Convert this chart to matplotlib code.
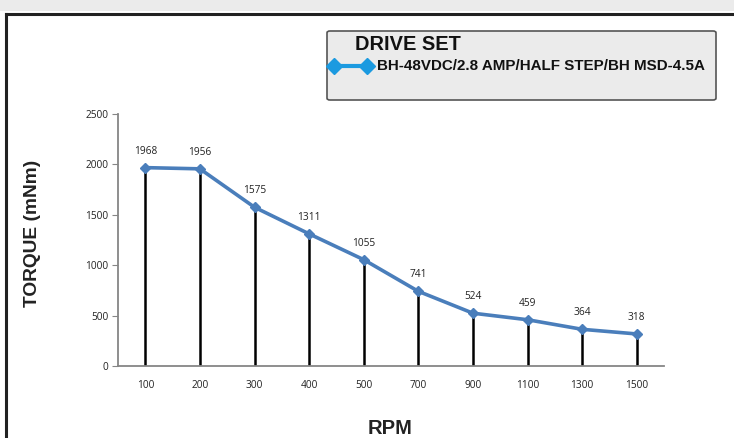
import matplotlib.pyplot as plt
from matplotlib.patches import Rectangle, FancyBboxPatch
from matplotlib.lines import Line2D

rpm = ['100', '200', '300', '400', '500', '700', '900', '1100', '1300', '1500']
torque = [1968, 1956, 1575, 1311, 1055, 741, 524, 459, 364, 318]
y_ticks = [0, 500, 1000, 1500, 2000, 2500]
legend_title = 'DRIVE SET'
series_name = 'BH-48VDC/2.8 AMP/HALF STEP/BH MSD-4.5A'

fig = plt.figure(figsize=(7.34, 4.38), dpi=100)
W, H = 734, 438

# gray strip on top and the black frame
fig.patches.append(Rectangle((0, 1 - 11 / H), 1, 11 / H, transform=fig.transFigure,
                             facecolor='#ebebeb', edgecolor='none'))
fig.add_artist(Line2D([6 / W, 6 / W], [0, 1 - 14 / H], color='#222222', lw=2.2))
fig.add_artist(Line2D([6 / W, 1], [1 - 14 / H, 1 - 14 / H], color='#222222', lw=2.2))

ax = fig.add_axes([118 / W, 1 - 366 / H, (664 - 118) / W, (366 - 114) / H])
x = list(range(len(rpm)))

# drop lines
ax.vlines(x, 0, torque, color='black', lw=1.8, zorder=2)
ax.plot(x, torque, color='#4a7ebb', lw=2.6, marker='D', markersize=5, zorder=3)

for xi, v in zip(x, torque):
    ax.annotate(str(v), (xi, v), xytext=(0, 8), textcoords='offset points',
                ha='center', va='bottom', fontsize=7.3, family='Open Sans', color='#222222')

ax.set_xlim(-0.5, len(rpm) - 0.5)
ax.set_ylim(0, 2500)
ax.set_yticks(y_ticks)
ax.set_xticks(x)
ax.set_xticklabels(rpm)
for lab in ax.get_xticklabels() + ax.get_yticklabels():
    lab.set_fontsize(7.3)
    lab.set_family('Open Sans')
    lab.set_color('#222222')
ax.tick_params(axis='x', length=0, pad=10)
ax.tick_params(axis='y', length=4, color='#868686', pad=3)
for s in ['top', 'right']:
    ax.spines[s].set_visible(False)
for s in ['left', 'bottom']:
    ax.spines[s].set_color('#868686')
    ax.spines[s].set_linewidth(1.3)

fig.text(33 / W, 1 - 233 / H, 'TORQUE (mNm)', rotation=90, ha='center', va='center',
         fontsize=13.8, fontweight='bold', family='Liberation Sans', color='#222222')
fig.text(390 / W, 1 - 428 / H, 'RPM', ha='center', va='center',
         fontsize=14.5, fontweight='bold', family='Liberation Sans', color='#222222')

# legend box
box = FancyBboxPatch((327 / W, 1 - 100 / H), (716 - 327) / W, (100 - 31) / H,
                     boxstyle='round,pad=0,rounding_size=0.004', transform=fig.transFigure,
                     facecolor='#ebebeb', edgecolor='#555555', lw=1.2)
fig.patches.append(box)
fig.text(355 / W, 1 - 44 / H, legend_title, ha='left', va='center', fontsize=14.4,
         fontweight='bold', family='Liberation Sans', color='#111111')
fig.add_artist(Line2D([334 / W, 367 / W], [1 - 66 / H, 1 - 66 / H], color='#1b9ae0', lw=3,
                      marker='D', markersize=8, markevery=[0, 1], transform=fig.transFigure))
fig.text(377 / W, 1 - 66 / H, series_name, ha='left', va='center', fontsize=10.9,
         fontweight='bold', family='Liberation Sans', color='#111111')

fig.savefig('out.png', dpi=100)
